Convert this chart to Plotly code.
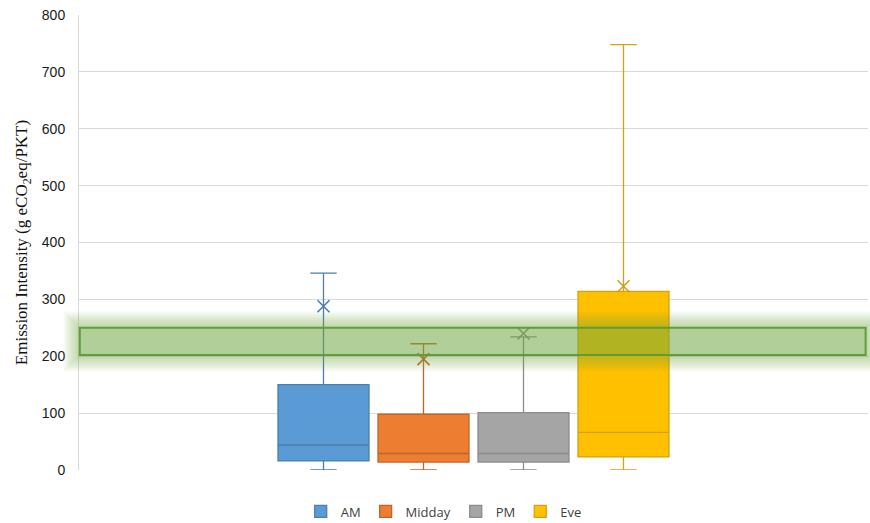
import plotly.graph_objects as go

# Emission intensity by time of day (g eCO2eq / PKT)
periods = ["AM", "Midday", "PM", "Eve"]
lower_whisker = [0, 0, 0, 0]
q1_values = [16, 14, 14, 23]
medians = [44, 29, 29, 66]
q3_values = [150, 98, 101, 314]
upper_whisker = [346, 222, 234, 748]
means = [288, 195, 240, 323]

# Target band
band_low = 202
band_high = 250

fills = ["#5b9bd5", "#ed7d31", "#a5a5a5", "#ffc000"]
lines = ["#4a7fb0", "#c0652a", "#8c8c8c", "#d4a017"]

fig = go.Figure()

for i, name in enumerate(periods):
    fig.add_trace(go.Box(
        name=name,
        x=[i],
        q1=[q1_values[i]],
        median=[medians[i]],
        q3=[q3_values[i]],
        lowerfence=[lower_whisker[i]],
        upperfence=[upper_whisker[i]],
        width=0.91,
        whiskerwidth=0.29,
        fillcolor=fills[i],
        line=dict(color=lines[i], width=1.3),
        boxpoints=False,
        hoverinfo="skip",
        showlegend=True,
    ))
    fig.add_trace(go.Scatter(
        x=[i],
        y=[means[i]],
        mode="markers",
        marker=dict(symbol="x-thin-open", size=12, color=lines[i],
                    line=dict(color=lines[i], width=1.6)),
        showlegend=False,
        hoverinfo="skip",
    ))

# Highlighted band with a soft glow around it
plot_w_px = 789.0
plot_h_px = 455.0
y_per_px = 800.0 / plot_h_px
shapes = []
n_glow = 9
for k in range(n_glow, 0, -1):
    dx = 1.8 * k / plot_w_px
    dy = 1.8 * k * y_per_px
    shapes.append(dict(
        type="rect", layer="above", xref="paper", yref="y",
        x0=0.001 - dx, x1=0.997 + dx,
        y0=band_low - dy, y1=band_high + dy,
        fillcolor="rgba(112,173,71,0.06)", line=dict(width=0),
    ))
shapes.append(dict(
    type="rect", layer="above", xref="paper", yref="y",
    x0=0.001, x1=0.997, y0=band_low, y1=band_high,
    fillcolor="rgba(112,173,71,0.2)",
    line=dict(color="rgba(92,155,52,0.95)", width=2),
))

fig.update_layout(
    width=870,
    height=523,
    margin=dict(l=79, r=2, t=15, b=53),
    paper_bgcolor="white",
    plot_bgcolor="white",
    boxmode="overlay",
    shapes=shapes,
    showlegend=True,
    legend=dict(
        orientation="h",
        xref="container", yref="container",
        x=0.51, xanchor="center",
        y=0.022, yanchor="middle",
        font=dict(family="Open Sans, Liberation Sans, sans-serif", size=13, color="#404040"),
        itemwidth=30,
        tracegroupgap=0,
        traceorder="normal",
    ),
    xaxis=dict(
        range=[-2.445, 5.445],
        showticklabels=False,
        showgrid=False,
        zeroline=False,
        showline=False,
        ticks="",
    ),
    yaxis=dict(
        range=[0, 800],
        dtick=100,
        showgrid=True,
        gridcolor="#d9d9d9",
        gridwidth=1,
        zeroline=False,
        showline=True,
        linecolor="#d9d9d9",
        linewidth=1,
        ticks="",
        ticklabelstandoff=10,
        tickfont=dict(family="Liberation Sans, Arial, sans-serif", size=14, color="#1a1a1a"),
        title=dict(
            text="Emission Intensity (g eCO<sub>2</sub>eq/PKT)",
            font=dict(family="Liberation Serif, Times New Roman, serif", size=17, color="#111111"),
            standoff=9,
        ),
    ),
)

fig.write_html("out.html")
